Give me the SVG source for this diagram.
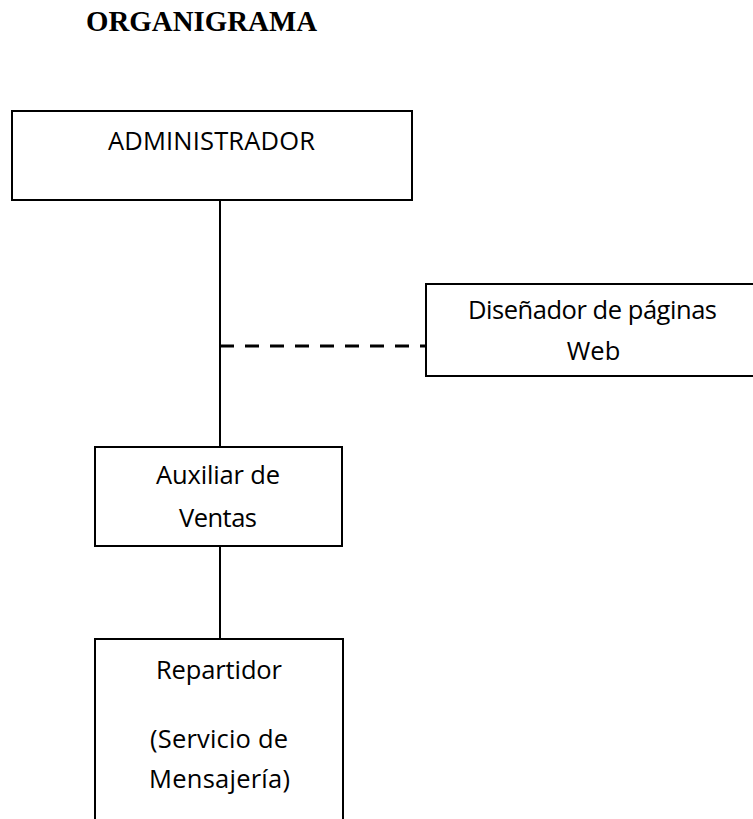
<svg xmlns="http://www.w3.org/2000/svg" width="753" height="819" viewBox="0 0 753 819">
<style>
.box{fill:#fff;stroke:#000;stroke-width:2}
.lbl{font-family:"Open Sans","Liberation Sans",sans-serif;font-size:25.5px;fill:#000;text-anchor:middle}
.line{stroke:#000;stroke-width:2;fill:none}
.dash{stroke:#000;stroke-width:3;fill:none;stroke-dasharray:14 11}
.title{font-family:"Liberation Serif","Times New Roman",serif;font-weight:bold;font-size:28.5px;fill:#000}
</style>
<rect width="753" height="819" fill="#fff"/>
<text class="title" x="86" y="31" textLength="231" lengthAdjust="spacingAndGlyphs">ORGANIGRAMA</text>
<g id="connectors">
<line class="line" x1="220" y1="200" x2="220" y2="447"/>
<line class="dash" x1="220" y1="346" x2="426" y2="346"/>
<line class="line" x1="220" y1="546" x2="220" y2="639"/>
</g>
<g id="administrador">
<rect class="box" x="12" y="111" width="400" height="89"/>
<text class="lbl" x="211.5" y="150" textLength="207">ADMINISTRADOR</text>
</g>
<g id="disenador">
<rect class="box" x="426" y="284" width="334" height="92"/>
<text class="lbl" x="592.5" y="319" textLength="249">Diseñador de páginas</text>
<text class="lbl" x="593.5" y="360">Web</text>
</g>
<g id="auxiliar">
<rect class="box" x="95" y="447" width="247" height="99"/>
<text class="lbl" x="218" y="484" textLength="124">Auxiliar de</text>
<text class="lbl" x="218" y="527" textLength="78">Ventas</text>
</g>
<g id="repartidor">
<rect class="box" x="95" y="639" width="248" height="200"/>
<text class="lbl" x="219" y="679" textLength="126">Repartidor</text>
<text class="lbl" x="219" y="748" textLength="138">(Servicio de</text>
<text class="lbl" x="219.5" y="788" textLength="141">Mensajería)</text>
</g>
</svg>
